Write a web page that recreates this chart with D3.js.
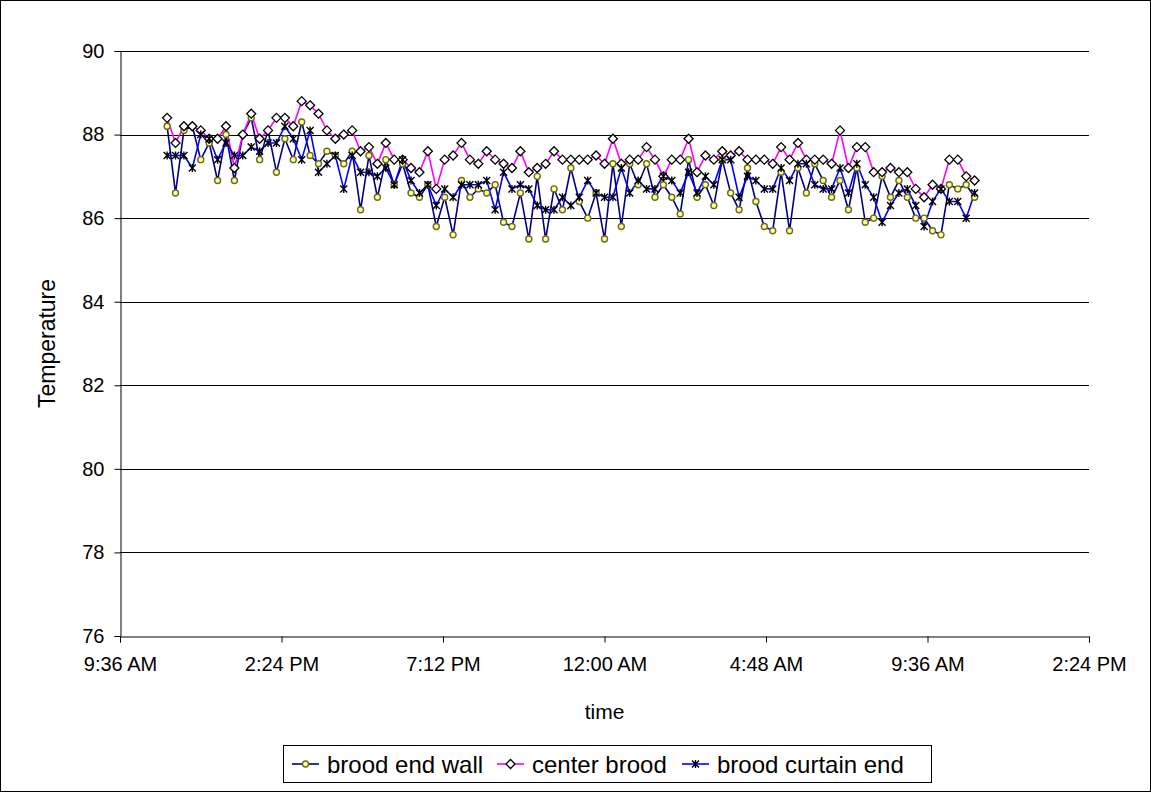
<!DOCTYPE html>
<html>
<head>
<meta charset="utf-8">
<script src="https://cdn.jsdelivr.net/npm/d3@7"></script>
<style>
  body { margin: 0; background: #fff; }
  text { font-family: Arial, "Liberation Sans", sans-serif; fill: #000; }
</style>
</head>
<body>
<svg width="1151" height="792"></svg>
<script>
// readings every 15 minutes starting 11:00 AM
const firstReading = new Date(2000, 0, 1, 11, 0);
const readingMinutes = 15;

const seriesNames = ["brood end wall", "center brood", "brood curtain end"];

const broodEndWall = [
    88.2, 86.6, 88.1, 88.2, 87.4, 87.8, 86.9, 88.0, 86.9, 88.0, 88.4, 87.4, 88.1, 87.1, 87.9, 87.4,
    88.3, 87.5, 87.3, 87.6, 87.5, 87.3, 87.6, 86.2, 87.5, 86.5, 87.4, 86.8, 87.3, 86.6, 86.5, 86.8,
    85.8, 86.5, 85.6, 86.9, 86.5, 86.7, 86.6, 86.8, 85.9, 85.8, 86.6, 85.5, 87.0, 85.5, 86.7, 86.2,
    87.2, 86.4, 86.0, 86.6, 85.5, 87.3, 85.8, 87.3, 86.8, 87.3, 86.5, 86.8, 86.5, 86.1, 87.4, 86.5,
    86.8, 86.3, 87.4, 86.6, 86.2, 87.2, 86.4, 85.8, 85.7, 87.1, 85.7, 87.2, 86.6, 87.3, 86.9, 86.5, 86.9,
    86.2, 87.2, 85.9, 86.0, 87.0, 86.5, 86.9, 86.5, 86.0, 86.0, 85.7, 85.6, 86.8, 86.7, 86.8, 86.5
];

const centerBrood = [
    88.4, 87.8, 88.2, 88.2, 88.1, 87.9, 87.9, 88.2, 87.2, 88.0, 88.5, 87.9, 88.1, 88.4, 88.4, 88.2,
    88.8, 88.7, 88.5, 88.1, 87.9, 88.0, 88.1, 87.6, 87.7, 87.3, 87.8, 87.4, 87.4, 87.2, 87.1, 87.6,
    86.7, 87.4, 87.5, 87.8, 87.4, 87.3, 87.6, 87.4, 87.3, 87.2, 87.6, 87.1, 87.2, 87.3, 87.6, 87.4,
    87.4, 87.4, 87.4, 87.5, 87.3, 87.9, 87.3, 87.4, 87.4, 87.7, 87.4, 87.0, 87.4, 87.4, 87.9, 87.1,
    87.5, 87.4, 87.6, 87.5, 87.6, 87.4, 87.4, 87.4, 87.3, 87.7, 87.4, 87.8, 87.4, 87.4, 87.4, 87.3, 88.1,
    87.2, 87.7, 87.7, 87.1, 87.1, 87.2, 87.1, 87.1, 86.7, 86.5, 86.8, 86.7, 87.4, 87.4, 87.0, 86.9
];

const broodCurtainEnd = [
    87.5, 87.5, 87.5, 87.2, 88.0, 87.9, 87.4, 87.8, 87.5, 87.5, 87.7, 87.6, 87.8, 87.8, 88.2, 87.9,
    87.4, 88.1, 87.1, 87.3, 87.5, 86.7, 87.5, 87.1, 87.1, 87.0, 87.2, 86.8, 87.4, 86.9, 86.6, 86.8,
    86.3, 86.7, 86.5, 86.8, 86.8, 86.8, 86.9, 86.2, 87.1, 86.7, 86.8, 86.7, 86.3, 86.2, 86.2, 86.5,
    86.3, 86.5, 86.9, 86.6, 86.5, 86.5, 87.2, 86.6, 86.9, 86.7, 86.7, 87.0, 86.9, 86.6, 87.1, 86.6,
    87.0, 86.8, 87.4, 87.4, 86.5, 87.0, 86.9, 86.7, 86.7, 87.2, 86.9, 87.3, 87.3, 86.8, 86.7, 86.7, 87.2,
    86.6, 87.3, 86.8, 86.5, 85.9, 86.3, 86.6, 86.7, 86.3, 85.8, 86.4, 86.7, 86.4, 86.4, 86.0, 86.6
];

const yTicks = [76, 78, 80, 82, 84, 86, 88, 90];
const axisStart = new Date(2000, 0, 1, 9, 36);
const tickStepMinutes = 288;
const tickCount = 7;

const svg    = d3.select("svg");
const width  = +svg.attr("width");
const height = +svg.attr("height");
const margin = { top: 51, right: 62, bottom: 156, left: 120 };

// figure border
svg.append("rect")
    .attr("x", 0.5).attr("y", 0.5)
    .attr("width", width - 1).attr("height", height - 1)
    .attr("fill", "none").attr("stroke", "#000");

const xTicks = d3.range(tickCount).map(k => d3.timeMinute.offset(axisStart, k * tickStepMinutes));

const x = d3.scaleTime()
    .domain([xTicks[0], xTicks[xTicks.length - 1]])
    .range([margin.left, width - margin.right]);

const y = d3.scaleLinear()
    .domain([76, 90])
    .range([height - margin.bottom, margin.top]);

// gridlines
svg.append("g")
    .selectAll("line")
    .data(yTicks.slice(1))
    .enter().append("line")
        .attr("x1", x.range()[0]).attr("x2", x.range()[1])
        .attr("y1", d => Math.round(y(d)) + 0.5)
        .attr("y2", d => Math.round(y(d)) + 0.5)
        .attr("stroke", "#000");

const yAxis = svg.append("g")
    .attr("transform", "translate(" + (margin.left + 0.5) + ",0)")
    .call(d3.axisLeft(y).tickValues(yTicks).tickSize(6).tickPadding(10).tickFormat(d3.format("d")));

const xAxis = svg.append("g")
    .attr("transform", "translate(0," + (Math.round(y(76)) + 0.5) + ")")
    .call(d3.axisBottom(x).tickValues(xTicks).tickSize(6).tickPadding(14).tickFormat(d3.timeFormat("%-I:%M %p")));

[xAxis, yAxis].forEach(g => {
    g.selectAll("path, line").attr("stroke", "#000").attr("stroke-width", 1);
    g.selectAll("text").style("font-size", "20px").attr("fill", "#000");
});

svg.append("text")
    .attr("x", (x.range()[0] + x.range()[1]) / 2)
    .attr("y", 719)
    .attr("text-anchor", "middle")
    .style("font-size", "21px")
    .text("time");

svg.append("text")
    .attr("transform", "translate(55," + ((y.range()[0] + y.range()[1]) / 2) + ") rotate(-90)")
    .attr("text-anchor", "middle")
    .style("font-size", "23px")
    .text("Temperature");

// series
const readingTime = i => d3.timeMinute.offset(firstReading, i * readingMinutes);

const series = [
    { name: seriesNames[0], values: broodEndWall,    color: "#000080", marker: "circle"  },
    { name: seriesNames[1], values: centerBrood,     color: "#ff00ff", marker: "diamond" },
    { name: seriesNames[2], values: broodCurtainEnd, color: "#0000ff", marker: "star"    },
];

const line = d3.line()
    .x((d, i) => x(readingTime(i)))
    .y(d => y(d));

function drawMarker(sel, kind) {
    if (kind === "circle") {
        sel.append("circle")
            .attr("r", 3)
            .attr("fill", "#ffff99")
            .attr("stroke", "#6b6b1f")
            .attr("stroke-width", 1.4);
    } else if (kind === "diamond") {
        sel.append("path")
            .attr("d", "M0,-4.5L4.5,0L0,4.5L-4.5,0Z")
            .attr("fill", "#fff")
            .attr("stroke", "#000")
            .attr("stroke-width", 1.3);
    } else {
        sel.append("path")
            .attr("d", "M-3.5,-3.5L3.5,3.5M-3.5,3.5L3.5,-3.5M0,-4L0,4")
            .attr("fill", "none")
            .attr("stroke", "#000")
            .attr("stroke-width", 1.4);
    }
}

const plot = svg.append("g");

series.forEach(s => {
    plot.append("path")
        .datum(s.values)
        .attr("fill", "none")
        .attr("stroke", s.color)
        .attr("stroke-width", 1.6)
        .attr("d", line);
});

series.forEach(s => {
    const marks = plot.append("g")
        .selectAll("g")
        .data(s.values)
        .enter().append("g")
            .attr("transform", (d, i) => "translate(" + x(readingTime(i)) + "," + y(d) + ")");
    drawMarker(marks, s.marker);
});

// legend
const legend = svg.append("g");
legend.append("rect")
    .attr("x", 283.5).attr("y", 745.5)
    .attr("width", 648).attr("height", 37)
    .attr("fill", "#fff").attr("stroke", "#000");

const legendX = [292, 497, 682];
series.forEach((s, k) => {
    const item = legend.append("g").attr("transform", "translate(" + legendX[k] + ",764)");
    item.append("line")
        .attr("x1", 0).attr("x2", 27)
        .attr("stroke", s.color).attr("stroke-width", 1.6);
    drawMarker(item.append("g").attr("transform", "translate(13.5,0)"), s.marker);
    item.append("text")
        .attr("x", 35).attr("y", 9)
        .style("font-size", "24px")
        .text(s.name);
});
</script>
</body>
</html>
